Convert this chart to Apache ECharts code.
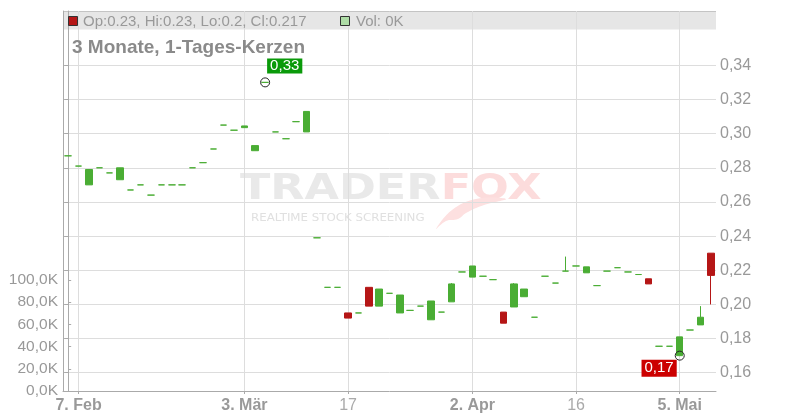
<!DOCTYPE html>
<html><head><meta charset="utf-8">
<script src="https://cdn.jsdelivr.net/npm/echarts@6/dist/echarts.min.js"></script>
<style>html,body{margin:0;padding:0;background:#fff}#c{width:800px;height:420px}</style>
</head><body><div id="c"></div>
<script>
// ---- data ----
const dates = [
 '2025-02-06','2025-02-07','2025-02-10','2025-02-11','2025-02-12','2025-02-13','2025-02-14',
 '2025-02-17','2025-02-18','2025-02-19','2025-02-20','2025-02-21','2025-02-24','2025-02-25',
 '2025-02-26','2025-02-27','2025-02-28','2025-03-03','2025-03-04','2025-03-05','2025-03-06',
 '2025-03-07','2025-03-10','2025-03-11','2025-03-12','2025-03-13','2025-03-14','2025-03-17',
 '2025-03-18','2025-03-19','2025-03-20','2025-03-21','2025-03-24','2025-03-25','2025-03-26',
 '2025-03-27','2025-03-28','2025-03-31','2025-04-01','2025-04-02','2025-04-03','2025-04-04',
 '2025-04-07','2025-04-08','2025-04-09','2025-04-10','2025-04-11','2025-04-14','2025-04-15',
 '2025-04-16','2025-04-17','2025-04-22','2025-04-23','2025-04-24','2025-04-25','2025-04-28',
 '2025-04-29','2025-04-30','2025-05-02','2025-05-05','2025-05-06','2025-05-07','2025-05-08'
];
const opens = [
 0.287,0.281,0.270,0.280,0.277,0.273,0.267,0.270,0.264,0.270,0.270,0.270,0.280,0.283,0.291,0.305,0.302,
 0.3035,0.290,0.330,0.301,0.297,0.307,0.301,0.239,0.210,0.210,0.195,0.195,0.210,0.199,0.2065,0.195,0.1965,0.199,0.191,0.1955,0.2015,
 0.219,0.216,0.2165,0.2145,0.1955,0.1985,0.2045,0.1925,0.2165,0.2125,0.2195,0.2225,0.2185,0.211,0.2195,0.2215,0.219,0.2175,0.215,0.1755,
 0.1755,0.170,0.185,0.188,0.230
];
const closes = [
 0.287,0.281,0.279,0.280,0.277,0.280,0.267,0.270,0.264,0.270,0.270,0.270,0.280,0.283,0.291,0.305,0.302,
 0.3045,0.293,0.330,0.301,0.297,0.307,0.313,0.239,0.210,0.210,0.192,0.195,0.199,0.209,0.2065,0.2055,0.1965,0.199,0.202,0.1955,0.212,
 0.219,0.2225,0.2165,0.2145,0.189,0.212,0.209,0.1925,0.2165,0.2125,0.2195,0.2225,0.222,0.211,0.2195,0.2215,0.219,0.2175,0.212,0.1755,
 0.1755,0.181,0.185,0.1925,0.217
];
const lows = [
 0.287,0.281,0.270,0.280,0.277,0.273,0.267,0.270,0.264,0.270,0.270,0.270,0.280,0.283,0.291,0.305,0.302,
 0.3035,0.290,0.330,0.301,0.297,0.307,0.301,0.239,0.210,0.210,0.192,0.195,0.199,0.199,0.2065,0.195,0.1965,0.199,0.191,0.1955,0.2015,
 0.219,0.216,0.2165,0.2145,0.189,0.1985,0.2045,0.1925,0.2165,0.2125,0.2195,0.2225,0.2185,0.211,0.2195,0.2215,0.219,0.2175,0.212,0.1755,
 0.1755,0.170,0.185,0.188,0.200
];
const highs = [
 0.287,0.281,0.279,0.280,0.277,0.280,0.267,0.270,0.264,0.270,0.270,0.270,0.280,0.283,0.291,0.305,0.302,
 0.3045,0.293,0.330,0.301,0.297,0.307,0.313,0.239,0.210,0.210,0.195,0.195,0.210,0.209,0.2065,0.2055,0.1965,0.199,0.202,0.1955,0.2125,
 0.219,0.2225,0.2165,0.2145,0.1955,0.2125,0.209,0.1925,0.2165,0.2125,0.228,0.2225,0.222,0.211,0.2195,0.2215,0.219,0.2175,0.215,0.1755,
 0.1755,0.181,0.185,0.199,0.230
];
const volumes = [
 0,0,0,0,0,0,0,0,0,0,0,0,0,0,0,0,0,0,0,0,0,0,0,0,0,0,0,0,0,0,0,0,
 0,0,0,0,0,0,0,0,0,0,0,0,0,0,0,0,0,0,0,0,0,0,0,0,0,0,0,0,0,0,0
];
const priceTicks = [0.16,0.18,0.20,0.22,0.24,0.26,0.28,0.30,0.32,0.34];
const volumeTicks = [0,20000,40000,60000,80000,100000];
const dateTickIndex = [1,17,27,39,49,59];
const dateTickLabels = ['7. Feb','3. Mär','17','2. Apr','16','5. Mai'];
const title = '3 Monate, 1-Tages-Kerzen';

// ---- build ----
const GREEN = '#4aad34', RED = '#b51616';
const fmtPrice = v => v.toFixed(2).replace('.', ',');
const fmtVol = v => (v / 1000).toFixed(1).replace('.', ',') + 'K';
const candleData = dates.map((d, i) => [i, opens[i], closes[i], lows[i], highs[i]]);
const volData = dates.map((d, i) => [i, volumes[i]]);
let maxI = 0, minI = 0;
highs.forEach((h, i) => { if (h > highs[maxI]) maxI = i; });
lows.forEach((l, i) => { if (l < lows[minI]) minI = i; });
const last = dates.length - 1;
const legendText = 'Op:' + opens[last] + ', Hi:' + highs[last] + ', Lo:' + lows[last] + ', Cl:' + closes[last];
const volText = 'Vol: ' + (volumes[last] / 1000) + 'K';

const FONT = '"Liberation Sans", Arial, sans-serif';
const chart = echarts.init(document.getElementById('c'), null, {renderer: 'canvas'});
chart.setOption({
  animation: false,
  textStyle: {fontFamily: FONT},
  grid: [
    {left: 63, right: 84, top: 11, bottom: 29},
    {left: 63, right: 84, top: 280, bottom: 29}
  ],
  xAxis: [
    {
      type: 'value', gridIndex: 0, min: -0.5, max: dates.length - 0.5,
      axisLine: {show: true, lineStyle: {color: '#aaa'}},
      axisTick: {show: true, customValues: dateTickIndex, length: 3, lineStyle: {color: '#aaa'}},
      axisLabel: {
        customValues: dateTickIndex, margin: 7, color: '#999', fontSize: 16,
        formatter: v => {
          const t = dateTickLabels[dateTickIndex.indexOf(Math.round(v))] || '';
          return /[A-Za-zÄÖÜäöü]/.test(t) ? '{b|' + t + '}' : '{n|' + t + '}';
        },
        rich: {b: {fontWeight: 'bold', fontSize: 16, color: '#999', fontFamily: FONT},
               n: {fontWeight: 'normal', fontSize: 16, color: '#aaa', fontFamily: FONT}}
      },
      splitLine: {show: true, lineStyle: {color: '#ddd'}}
    },
    {type: 'value', gridIndex: 1, min: -0.5, max: dates.length - 0.5, show: false}
  ],
  yAxis: [
    {
      type: 'value', gridIndex: 0, position: 'right', min: 0.1493, max: 0.3718,
      axisLine: {show: true, lineStyle: {color: '#aaa'}},
      axisTick: {show: true, inside: true, length: 4, customValues: priceTicks, lineStyle: {color: '#aaa'}},
      axisLabel: {customValues: priceTicks, formatter: fmtPrice, color: '#999', fontSize: 16, margin: 4},
      splitLine: {show: true, lineStyle: {color: '#ddd'}}
    },
    {
      type: 'value', gridIndex: 1, position: 'left', min: 0, max: 100000,
      axisLine: {show: true, lineStyle: {color: '#aaa'}},
      axisTick: {show: true, inside: true, length: 3, customValues: volumeTicks, lineStyle: {color: '#aaa'}},
      axisLabel: {customValues: volumeTicks, formatter: fmtVol, color: '#999', fontSize: 15.5, margin: 5},
      splitLine: {show: false}
    },
    {
      type: 'value', gridIndex: 0, position: 'left', min: 0, max: 1,
      axisLine: {show: true, lineStyle: {color: '#aaa'}},
      axisTick: {show: false}, axisLabel: {show: false}, splitLine: {show: false}
    }
  ],
  graphic: [
    {type: 'rect', z: -20, shape: {x: 63, y: 11, width: 653, height: 18.5}, style: {fill: '#e6e6e6'}},
    {type: 'line', z: -19, shape: {x1: 63, y1: 11.5, x2: 716, y2: 11.5}, style: {stroke: '#c4c4c4', lineWidth: 1}},
    {type: 'rect', z: 10, shape: {x: 68.5, y: 16.5, width: 9, height: 9}, style: {fill: RED, stroke: '#333', lineWidth: 1}},
    {type: 'text', z: 10, style: {text: legendText, x: 83, y: 22, verticalAlign: 'middle', fill: '#999', font: '15px ' + FONT}},
    {type: 'rect', z: 10, shape: {x: 340.5, y: 16.5, width: 9, height: 9}, style: {fill: '#aedca6', stroke: '#333', lineWidth: 1}},
    {type: 'text', z: 10, style: {text: volText, x: 356, y: 22, verticalAlign: 'middle', fill: '#999', font: '15px ' + FONT}},
    {type: 'text', z: 10, style: {text: title, x: 72, y: 48, verticalAlign: 'middle', fill: '#8a8a8a', font: 'bold 19px ' + FONT}},
    {type: 'group', x: 240, y: 189.5, scaleX: 1.27, z: -15, children: [
      {type: 'text', z: -15, style: {text: 'TRADER', x: 0, y: 0, verticalAlign: 'middle', fill: '#e9e9e9', font: 'bold 35px "DejaVu Sans"'}},
      {type: 'text', z: -15, style: {text: 'FOX', x: 158, y: 0, verticalAlign: 'middle', fill: '#fcdcdc', font: 'bold 35px "DejaVu Sans"'}}
    ]},
    {type: 'group', x: 251, y: 218.5, scaleX: 1.18, z: -15, children: [
      {type: 'text', z: -15, style: {text: 'REALTIME STOCK SCREENING', x: 0, y: 0, verticalAlign: 'middle', fill: '#e0e0e0', font: '10px "DejaVu Sans"'}}
    ]},
    {type: 'polygon', z: -15, shape: {smooth: 0.4, points: [[436, 229], [452, 210], [476, 199], [506, 199], [484, 205], [466, 213], [458, 219], [446, 221]]}, style: {fill: '#fde0e0'}}
  ],
  series: [
    {
      type: 'bar', xAxisIndex: 1, yAxisIndex: 1, data: volData, barWidth: 7,
      itemStyle: {color: '#aedca6'}, silent: true
    },
    {
      type: 'candlestick', xAxisIndex: 0, yAxisIndex: 0, data: candleData, barWidth: 7,
      itemStyle: {color: GREEN, color0: RED, borderColor: GREEN, borderColor0: RED, borderColorDoji: GREEN, borderWidth: 1},
      markPoint: {
        symbol: 'circle', symbolSize: 9, silent: true,
        itemStyle: {color: 'rgba(255,255,255,0)', borderColor: '#222', borderWidth: 1},
        data: [
          {coord: [maxI, highs[maxI]], value: highs[maxI],
           label: {show: true, formatter: p => fmtPrice(p.value), position: [7, -19], align: 'left', verticalAlign: 'top',
                   color: '#fff', backgroundColor: '#0a9a0a', padding: [0, 3], fontSize: 15, lineHeight: 15, fontFamily: FONT}},
          {coord: [minI, lows[minI]], value: lows[minI],
           label: {show: true, formatter: p => fmtPrice(p.value), position: [-33.2, 9.2], align: 'left', verticalAlign: 'top',
                   color: '#fff', backgroundColor: '#cc0000', padding: [1, 3], fontSize: 15, lineHeight: 15, fontFamily: FONT}}
        ]
      }
    }
  ]
});
</script></body></html>
